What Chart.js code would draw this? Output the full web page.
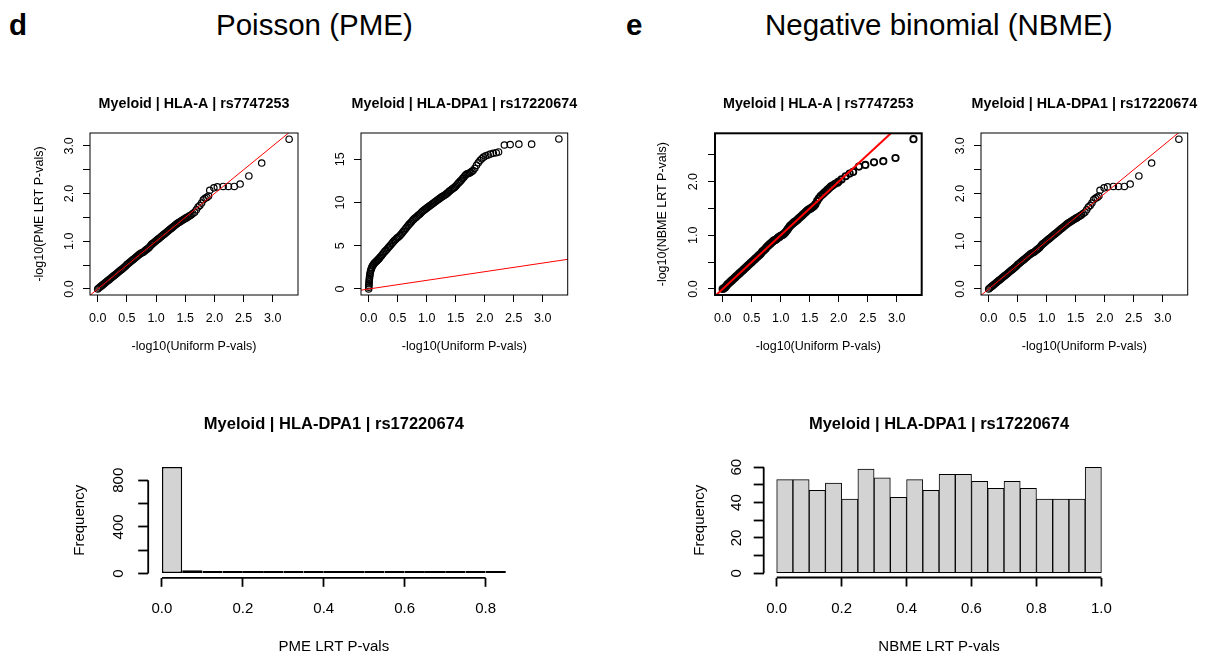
<!DOCTYPE html>
<html>
<head>
<meta charset="utf-8">
<script src="https://cdn.jsdelivr.net/npm/chart.js@4.4.1/dist/chart.umd.min.js"></script>
<style>
  body { margin: 0; background: #fff; width: 1214px; height: 657px; position: relative; overflow: hidden;
         font-family: "Liberation Sans", Arial, sans-serif; }
  canvas { position: absolute; }
  .hdr { position: absolute; top: 10px; font-size: 29.5px; line-height: 1; color: #000; white-space: nowrap; }
</style>
</head>
<body>
<div class="hdr" style="left:9px;font-weight:bold">d</div>
<div class="hdr" style="left:216px">Poisson (PME)</div>
<div class="hdr" style="left:626px;font-weight:bold">e</div>
<div class="hdr" style="left:765px">Negative binomial (NBME)</div>

<canvas id="qqPmeA" width="290" height="272" style="left:20px;top:88px"></canvas>
<canvas id="qqPmeDpa" width="300" height="272" style="left:290px;top:88px"></canvas>
<canvas id="qqNbmeA" width="290" height="272" style="left:640px;top:88px"></canvas>
<canvas id="qqNbmeDpa" width="290" height="272" style="left:920px;top:88px"></canvas>
<canvas id="histPme" width="500" height="262" style="left:40px;top:395px"></canvas>
<canvas id="histNbme" width="554" height="262" style="left:660px;top:395px"></canvas>

<script>
const FONT = '"Liberation Sans", Arial, Helvetica, sans-serif';

// --- QQ plots: observed -log10(p) against expected -log10(uniform p) ---
const qqXTicks = [0, 0.5, 1, 1.5, 2, 2.5, 3];
const qqXLabels = ['0.0', '0.5', '1.0', '1.5', '2.0', '2.5', '3.0'];
const identityLine = [-1, 20];   // red y = x reference

// PME, HLA-A | rs7747253
const pmeHlaAX = [0.00,0.02,0.04,0.06,0.08,0.10,0.12,0.14,0.16,0.18,0.20,0.22,0.24,0.26,0.28,0.30,0.32,0.34,0.36,0.38,
  0.40,0.42,0.44,0.46,0.48,0.50,0.52,0.54,0.56,0.58,0.60,0.62,0.64,0.66,0.68,0.70,0.72,0.74,0.76,0.78,
  0.80,0.82,0.84,0.86,0.88,0.90,0.92,0.94,0.96,0.98,1.00,1.02,1.04,1.06,1.08,1.10,1.12,1.14,1.16,1.18,
  1.20,1.22,1.24,1.26,1.28,1.30,1.32,1.34,1.36,1.38,1.40,1.42,1.44,1.46,1.48,1.50,1.52,1.54,1.56,1.58,
  1.60,1.63,1.66,1.69,1.72,1.75,1.78,1.81,1.84,1.87,1.90,
  1.92,1.99,2.05,2.15,2.24,2.34,2.44,2.59,2.81,3.28];
const pmeHlaAY = [0.00,0.02,0.04,0.06,0.08,0.10,0.12,0.14,0.16,0.18,0.20,0.22,0.24,0.26,0.28,0.30,0.32,0.34,0.36,0.38,
  0.40,0.42,0.44,0.46,0.48,0.51,0.53,0.55,0.57,0.59,0.61,0.63,0.65,0.67,0.69,0.71,0.73,0.75,0.76,0.77,
  0.79,0.81,0.83,0.85,0.87,0.90,0.93,0.95,0.97,0.99,1.01,1.03,1.05,1.07,1.09,1.11,1.13,1.15,1.17,1.19,
  1.21,1.23,1.25,1.27,1.29,1.31,1.33,1.35,1.37,1.39,1.40,1.42,1.43,1.45,1.46,1.48,1.49,1.51,1.52,1.54,
  1.55,1.58,1.61,1.66,1.72,1.75,1.80,1.87,1.90,1.92,1.95,
  2.07,2.12,2.14,2.15,2.15,2.15,2.20,2.37,2.64,3.14];
const pmeHlaAYTicks = [0, 0.5, 1, 1.5, 2, 2.5, 3];
const pmeHlaAYLabels = ['0.0', '', '1.0', '', '2.0', '', '3.0'];

// PME, HLA-DPA1 | rs17220674
const pmeDpa1X = [0.000,0.002,0.004,0.006,0.008,0.010,0.013,0.016,0.020,0.025,0.031,0.038,0.046,0.055,0.065,0.075,
  0.085,0.095,0.110,0.125,0.140,0.155,0.170,0.185,
  0.20,0.22,0.24,0.26,0.28,0.30,0.32,0.34,0.36,0.38,0.40,0.42,0.44,0.46,0.48,0.50,0.52,0.54,0.56,0.58,
  0.60,0.62,0.64,0.66,0.68,0.70,0.72,0.74,0.76,0.78,0.80,0.82,0.84,0.86,0.88,0.90,0.92,0.94,0.96,0.98,
  1.00,1.02,1.04,1.06,1.08,1.10,1.12,1.14,1.16,1.18,1.20,1.22,1.24,1.26,1.28,1.30,1.32,1.34,1.36,1.38,
  1.40,1.42,1.44,1.46,1.48,1.50,1.52,1.54,1.56,1.58,1.60,1.62,1.64,1.66,1.68,1.70,1.72,1.74,1.76,1.78,1.80,
  1.83,1.86,1.89,1.92,1.95,1.98,2.02,2.06,2.10,2.15,2.20,2.24,2.34,2.44,2.59,2.81,3.28];
const pmeDpa1Y = [0.00,0.20,0.40,0.60,0.80,1.00,1.20,1.40,1.60,1.80,2.00,2.20,2.35,2.50,2.65,2.75,
  2.85,2.95,3.05,3.15,3.25,3.35,3.45,3.55,
  3.70,3.85,4.02,4.18,4.35,4.48,4.63,4.80,4.93,5.08,5.25,5.42,5.57,5.70,5.83,5.95,6.05,6.18,6.33,6.50,
  6.67,6.83,7.00,7.17,7.33,7.50,7.63,7.78,7.95,8.08,8.20,8.30,8.43,8.55,8.65,8.78,8.92,9.05,9.15,9.25,
  9.35,9.45,9.55,9.65,9.75,9.85,9.95,10.05,10.15,10.25,10.35,10.45,10.55,10.65,10.73,10.80,10.90,11.00,11.10,11.23,
  11.35,11.45,11.55,11.65,11.75,11.88,12.03,12.20,12.33,12.47,12.60,12.77,12.93,13.10,13.23,13.32,13.35,13.42,13.50,13.60,13.70,
  13.95,14.30,14.60,14.85,15.05,15.25,15.40,15.50,15.60,15.70,15.75,15.85,16.65,16.70,16.75,16.75,17.35];
const pmeDpa1YTicks = [0, 5, 10, 15];
const pmeDpa1YLabels = ['0', '5', '10', '15'];

// NBME, HLA-A | rs7747253
const nbmeHlaAX = [0.00,0.02,0.04,0.06,0.08,0.10,0.12,0.14,0.16,0.18,0.20,0.22,0.24,0.26,0.28,0.30,0.32,0.34,0.36,0.38,
  0.40,0.42,0.44,0.46,0.48,0.50,0.52,0.54,0.56,0.58,0.60,0.62,0.64,0.66,0.68,0.70,0.72,0.74,0.76,0.78,
  0.80,0.82,0.84,0.86,0.88,0.90,0.92,0.94,0.96,0.98,1.00,1.02,1.04,1.06,1.08,1.10,1.12,1.14,1.16,1.18,
  1.20,1.22,1.24,1.26,1.28,1.30,1.32,1.34,1.36,1.38,1.40,1.42,1.44,1.46,1.48,1.50,1.52,1.54,1.56,1.58,
  1.60,1.63,1.66,1.69,1.72,1.75,1.78,1.81,1.84,1.87,1.90,
  1.94,1.98,2.00,2.05,2.12,2.19,2.25,2.35,2.46,2.61,2.77,2.98,3.29];
const nbmeHlaAY = [0.00,0.01,0.03,0.05,0.08,0.10,0.12,0.14,0.16,0.18,0.20,0.22,0.24,0.26,0.28,0.30,0.32,0.34,0.36,0.38,
  0.40,0.42,0.44,0.46,0.48,0.50,0.52,0.54,0.56,0.58,0.60,0.62,0.64,0.66,0.69,0.71,0.73,0.75,0.78,0.80,
  0.82,0.84,0.86,0.88,0.90,0.91,0.92,0.94,0.96,0.97,0.99,1.00,1.01,1.03,1.05,1.08,1.11,1.14,1.17,1.19,
  1.21,1.23,1.25,1.26,1.28,1.30,1.32,1.34,1.36,1.38,1.40,1.42,1.44,1.46,1.48,1.49,1.50,1.52,1.53,1.55,
  1.58,1.64,1.69,1.73,1.76,1.79,1.82,1.85,1.88,1.91,1.93,
  1.96,1.98,2.00,2.04,2.10,2.15,2.18,2.28,2.31,2.36,2.38,2.44,2.79];
const nbmeHlaAYTicks = [0, 0.5, 1, 1.5, 2, 2.5];
const nbmeHlaAYLabels = ['0.0', '', '1.0', '', '2.0', ''];

// NBME, HLA-DPA1 | rs17220674 (reads the same as the PME HLA-A panel)
const nbmeDpa1X = [0.00,0.02,0.04,0.06,0.08,0.10,0.12,0.14,0.16,0.18,0.20,0.22,0.24,0.26,0.28,0.30,0.32,0.34,0.36,0.38,
  0.40,0.42,0.44,0.46,0.48,0.50,0.52,0.54,0.56,0.58,0.60,0.62,0.64,0.66,0.68,0.70,0.72,0.74,0.76,0.78,
  0.80,0.82,0.84,0.86,0.88,0.90,0.92,0.94,0.96,0.98,1.00,1.02,1.04,1.06,1.08,1.10,1.12,1.14,1.16,1.18,
  1.20,1.22,1.24,1.26,1.28,1.30,1.32,1.34,1.36,1.38,1.40,1.42,1.44,1.46,1.48,1.50,1.52,1.54,1.56,1.58,
  1.60,1.63,1.66,1.69,1.72,1.75,1.78,1.81,1.84,1.87,1.90,
  1.92,1.99,2.05,2.15,2.24,2.34,2.44,2.59,2.81,3.28];
const nbmeDpa1Y = [0.00,0.02,0.04,0.06,0.08,0.10,0.12,0.14,0.16,0.18,0.20,0.22,0.24,0.26,0.28,0.30,0.32,0.34,0.36,0.38,
  0.40,0.42,0.44,0.46,0.48,0.51,0.53,0.55,0.57,0.59,0.61,0.63,0.65,0.67,0.69,0.71,0.73,0.75,0.76,0.77,
  0.79,0.81,0.83,0.85,0.87,0.90,0.93,0.95,0.97,0.99,1.01,1.03,1.05,1.07,1.09,1.11,1.13,1.15,1.17,1.19,
  1.21,1.23,1.25,1.27,1.29,1.31,1.33,1.35,1.37,1.39,1.40,1.42,1.43,1.45,1.46,1.48,1.49,1.51,1.52,1.54,
  1.55,1.58,1.61,1.66,1.72,1.75,1.80,1.87,1.90,1.92,1.95,
  2.07,2.12,2.14,2.15,2.15,2.15,2.20,2.37,2.64,3.14];

// --- histograms of LRT p-values (bin midpoints, width 0.05) ---
const pmeHistBins = [0.025,0.075,0.125,0.175,0.225,0.275,0.325,0.375,0.425,0.475,0.525,0.575,0.625,0.675,0.725,0.775,0.825];
const pmeHistCounts = [913,29,15,9,4,3,4,3,2,4,2,3,2,3,1,2,1];
const pmeHistXTicks = [0, 0.2, 0.4, 0.6, 0.8];
const pmeHistXLabels = ['0.0', '0.2', '0.4', '0.6', '0.8'];
const pmeHistYTicks = [0, 200, 400, 600, 800];
const pmeHistYLabels = ['0', '', '400', '', '800'];

const nbmeHistBins = [0.025,0.075,0.125,0.175,0.225,0.275,0.325,0.375,0.425,0.475,
  0.525,0.575,0.625,0.675,0.725,0.775,0.825,0.875,0.925,0.975];
const nbmeHistCounts = [53,53,47,51,42,59,54,43,53,47,56,56,52,48,52,48,42,42,42,60];
const nbmeHistXTicks = [0, 0.2, 0.4, 0.6, 0.8, 1];
const nbmeHistXLabels = ['0.0', '0.2', '0.4', '0.6', '0.8', '1.0'];
const nbmeHistYTicks = [0, 10, 20, 30, 40, 50, 60];
const nbmeHistYLabels = ['0', '', '20', '', '40', '', '60'];

Chart.defaults.font.family = FONT;
Chart.defaults.color = '#000';
Chart.defaults.animation = false;
Chart.defaults.responsive = false;
Chart.defaults.events = [];
Chart.defaults.plugins.legend.display = false;
Chart.defaults.plugins.tooltip.enabled = false;

const pts = (xs, ys) => xs.map((x, i) => ({x: x, y: ys[i]}));

// base-R look: plot box or detached axis lines, plus a title over the plot region
const rFrame = {
  id: 'rFrame',
  afterDraw(chart, args, o) {
    const ctx = chart.ctx, a = chart.chartArea, sx = chart.scales.x, sy = chart.scales.y;
    ctx.save();
    ctx.strokeStyle = '#000';
    if (o.box) {
      ctx.lineWidth = o.box;
      ctx.strokeRect(a.left, a.top, a.right - a.left, a.bottom - a.top);
    }
    if (o.axes) {
      ctx.lineWidth = o.axes;
      ctx.beginPath();
      ctx.moveTo(sx.getPixelForValue(sx.ticks[0].value), a.bottom);
      ctx.lineTo(sx.getPixelForValue(sx.ticks[sx.ticks.length - 1].value), a.bottom);
      ctx.moveTo(a.left, sy.getPixelForValue(sy.ticks[0].value));
      ctx.lineTo(a.left, sy.getPixelForValue(sy.ticks[sy.ticks.length - 1].value));
      ctx.stroke();
    }
    ctx.fillStyle = '#000';
    ctx.font = o.font;
    ctx.textAlign = 'center';
    ctx.textBaseline = 'middle';
    ctx.fillText(o.title, (a.left + a.right) / 2, a.top - o.gap);
    ctx.restore();
  }
};

function axisCfg(o) {
  const horiz = o.pos === 'bottom';
  return {
    type: 'linear', position: o.pos, min: o.min, max: o.max, offset: false,
    afterBuildTicks: s => { s.ticks = o.ticks.map(v => ({value: v})); },
    afterFit: s => { if (horiz) s.height = o.size; else s.width = o.size; },
    grid: { drawOnChartArea: false, drawTicks: true, tickLength: o.tl, tickWidth: o.lw, tickColor: '#000', offset: false },
    border: { display: false },
    ticks: {
      autoSkip: false, padding: o.pad, color: '#000', font: { family: FONT, size: o.fs },
      minRotation: horiz ? 0 : 90, maxRotation: horiz ? 0 : 90,
      crossAlign: horiz ? 'near' : 'center',
      callback: (v, i) => o.labels[i]
    },
    title: o.title
      ? { display: true, text: o.title, color: '#000', font: { family: FONT, size: o.fs, lineHeight: 1.2 },
          padding: horiz ? { top: 0, bottom: o.tpad } : { top: o.tpad, bottom: 0 } }
      : { display: false }
  };
}

function qqChart(id, g) {
  new Chart(document.getElementById(id), {
    type: 'scatter',
    data: {
      datasets: [
        { data: identityLine.map(v => ({x: v, y: v})), showLine: true, borderColor: '#ff0000',
          borderWidth: g.heavy ? 2 : 1, pointRadius: 0, clip: 0, order: 0 },
        { data: pts(g.xs, g.ys), pointRadius: 3.2, pointBorderWidth: g.heavy ? 1.8 : 1.2,
          pointBorderColor: '#000', pointBackgroundColor: 'rgba(0,0,0,0)', clip: false, order: 1 }
      ]
    },
    options: {
      layout: { padding: g.pad },
      scales: {
        x: axisCfg({ pos: 'bottom', min: -0.132, max: 3.432, ticks: qqXTicks, labels: qqXLabels,
          size: 65, tl: 7, lw: 1, pad: 9.5, fs: 12.5, title: '-log10(Uniform P-vals)', tpad: 5.5 }),
        y: axisCfg({ pos: 'left', min: g.yMin, max: g.yMax, ticks: g.yTicks, labels: g.yLabels,
          size: g.yW, tl: 7, lw: 1, pad: g.yPad, fs: 12.5, title: g.yTitle, tpad: g.yTitlePad })
      },
      plugins: { rFrame: { box: g.heavy ? 2 : 1, title: g.title, font: 'bold 14.3px ' + FONT, gap: 29 } }
    },
    plugins: [rFrame]
  });
}

function histChart(id, g) {
  new Chart(document.getElementById(id), {
    type: 'bar',
    data: {
      datasets: [{ data: pts(g.bins, g.counts),
        // bars only a pixel or two tall read as solid outline in the original
        backgroundColor: c => (c.raw && c.raw.y < g.thin) ? '#000' : '#d3d3d3',
        borderColor: '#000', borderWidth: g.bw, borderSkipped: false, inflateAmount: g.inflate,
        barPercentage: 1, categoryPercentage: 1, minBarLength: g.minLen, clip: false }]
    },
    options: {
      layout: { padding: g.pad },
      scales: {
        x: axisCfg({ pos: 'bottom', min: g.xMin, max: g.xMax, ticks: g.xTicks, labels: g.xLabels,
          size: g.xH, tl: 9, lw: 1.8, pad: 13.2, fs: 15, title: g.xTitle, tpad: 0.8 }),
        y: axisCfg({ pos: 'left', min: g.yMin, max: g.yMax, ticks: g.yTicks, labels: g.yLabels,
          size: g.yW, tl: 10, lw: 1.8, pad: g.yPad, fs: 15, title: 'Frequency', tpad: 10.8 })
      },
      plugins: { rFrame: { axes: 1.8, title: 'Myeloid | HLA-DPA1 | rs17220674', font: 'bold 16.5px ' + FONT, gap: g.gap } }
    },
    plugins: [rFrame]
  });
}

qqChart('qqPmeA', {
  xs: pmeHlaAX, ys: pmeHlaAY, yTicks: pmeHlaAYTicks, yLabels: pmeHlaAYLabels, yMin: -0.126, yMax: 3.27,
  pad: { left: 10, top: 45, right: 12, bottom: 0 }, yW: 60, yPad: 4.8,
  yTitle: '-log10(PME LRT P-vals)', yTitlePad: 2.5, title: 'Myeloid | HLA-A | rs7747253'
});
qqChart('qqPmeDpa', {
  xs: pmeDpa1X, ys: pmeDpa1Y, yTicks: pmeDpa1YTicks, yLabels: pmeDpa1YLabels, yMin: -0.694, yMax: 18.04,
  pad: { left: 10, top: 45, right: 22.3, bottom: 0 }, yW: 61, yPad: 6.5,
  title: 'Myeloid | HLA-DPA1 | rs17220674'
});
qqChart('qqNbmeA', {
  xs: nbmeHlaAX, ys: nbmeHlaAY, yTicks: nbmeHlaAYTicks, yLabels: nbmeHlaAYLabels, yMin: -0.112, yMax: 2.90,
  pad: { left: 10, top: 45.3, right: 8.3, bottom: 0 }, yW: 65, yPad: 5.3, heavy: true,
  yTitle: '-log10(NBME LRT P-vals)', yTitlePad: 5.5, title: 'Myeloid | HLA-A | rs7747253'
});
qqChart('qqNbmeDpa', {
  xs: nbmeDpa1X, ys: nbmeDpa1Y, yTicks: pmeHlaAYTicks, yLabels: pmeHlaAYLabels, yMin: -0.126, yMax: 3.27,
  pad: { left: 10, top: 45, right: 22.3, bottom: 0 }, yW: 51, yPad: 4.8,
  title: 'Myeloid | HLA-DPA1 | rs17220674'
});

histChart('histPme', {
  bins: pmeHistBins, counts: pmeHistCounts, bw: 1.5, minLen: 2.5, thin: 20, inflate: 0,
  xMin: -0.034, xMax: 0.884, xTicks: pmeHistXTicks, xLabels: pmeHistXLabels, xTitle: 'PME LRT P-vals',
  yMin: -36.5, yMax: 949.5, yTicks: pmeHistYTicks, yLabels: pmeHistYLabels,
  pad: { left: 20, top: 67.8, right: 20.4, bottom: 0 }, xH: 79.2, yW: 88.2, yPad: 6.4, gap: 38.8
});
histChart('histNbme', {
  bins: nbmeHistBins, counts: nbmeHistCounts, bw: 1, minLen: 0, thin: 0, inflate: 'auto',
  xMin: -0.04, xMax: 1.04, xTicks: nbmeHistXTicks, xLabels: nbmeHistXLabels, xTitle: 'NBME LRT P-vals',
  yMin: -2.4, yMax: 62.4, yTicks: nbmeHistYTicks, yLabels: nbmeHistYLabels,
  pad: { left: 20, top: 68, right: 99.6, bottom: 0 }, xH: 79.5, yW: 83.7, yPad: 8.65, gap: 39
});
</script>
</body>
</html>
